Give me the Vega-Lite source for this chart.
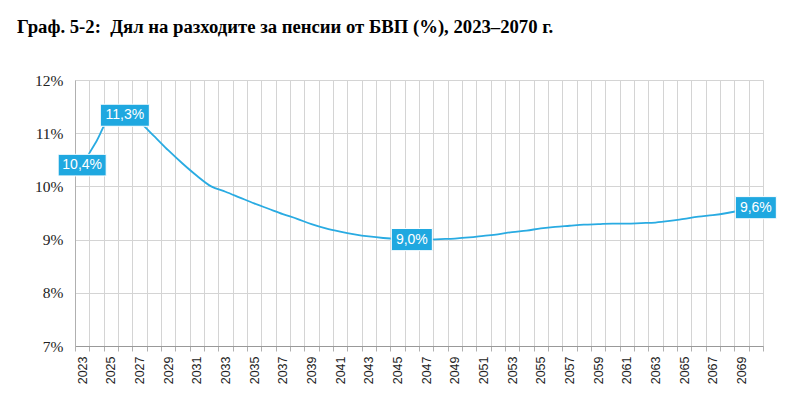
{
  "$schema": "https://vega.github.io/schema/vega-lite/v6.json",
  "width": 688,
  "height": 266,
  "autosize": {"type": "none"},
  "padding": {"left": 75, "top": 80, "right": 28, "bottom": 65},
  "background": "white",
  "title": {
    "text": "Граф. 5-2:\u00a0 Дял на разходите за пенсии от БВП (%), 2023–2070 г.",
    "anchor": "start",
    "frame": "group",
    "dx": -58,
    "offset": 36,
    "font": "Liberation Serif",
    "fontSize": 18.7,
    "fontWeight": "bold",
    "color": "#000000"
  },
  "data": {
    "values": [
      {"year": 2023, "value": 10.4, "label": "10,4%"},
      {"year": 2024, "value": 10.85},
      {"year": 2025, "value": 11.3, "label": "11,3%"},
      {"year": 2026, "value": 11.3},
      {"year": 2027, "value": 11.2},
      {"year": 2028, "value": 10.95},
      {"year": 2029, "value": 10.68},
      {"year": 2030, "value": 10.43},
      {"year": 2031, "value": 10.2},
      {"year": 2032, "value": 10.0},
      {"year": 2033, "value": 9.9},
      {"year": 2034, "value": 9.79},
      {"year": 2035, "value": 9.68},
      {"year": 2036, "value": 9.58},
      {"year": 2037, "value": 9.48},
      {"year": 2038, "value": 9.39},
      {"year": 2039, "value": 9.29},
      {"year": 2040, "value": 9.21},
      {"year": 2041, "value": 9.15},
      {"year": 2042, "value": 9.1},
      {"year": 2043, "value": 9.06},
      {"year": 2044, "value": 9.03},
      {"year": 2045, "value": 9.01},
      {"year": 2046, "value": 9.0, "label": "9,0%"},
      {"year": 2047, "value": 9.0},
      {"year": 2048, "value": 9.01},
      {"year": 2049, "value": 9.02},
      {"year": 2050, "value": 9.04},
      {"year": 2051, "value": 9.07},
      {"year": 2052, "value": 9.1},
      {"year": 2053, "value": 9.14},
      {"year": 2054, "value": 9.17},
      {"year": 2055, "value": 9.21},
      {"year": 2056, "value": 9.24},
      {"year": 2057, "value": 9.26},
      {"year": 2058, "value": 9.28},
      {"year": 2059, "value": 9.29},
      {"year": 2060, "value": 9.3},
      {"year": 2061, "value": 9.3},
      {"year": 2062, "value": 9.31},
      {"year": 2063, "value": 9.32},
      {"year": 2064, "value": 9.35},
      {"year": 2065, "value": 9.39},
      {"year": 2066, "value": 9.43},
      {"year": 2067, "value": 9.46},
      {"year": 2068, "value": 9.5},
      {"year": 2069, "value": 9.55},
      {"year": 2070, "value": 9.6, "label": "9,6%"}
    ]
  },
  "encoding": {
    "x": {
      "field": "year",
      "type": "ordinal",
      "bandPosition": 0.5,
      "scale": {"type": "band", "paddingInner": 0, "paddingOuter": 0},
      "axis": {
        "title": null,
        "tickBand": "extent",
        "labelAngle": -90,
        "labelExpr": "datum.value % 2 == 1 ? datum.label : ''",
        "labelFont": "Liberation Sans",
        "labelFontSize": 12.5,
        "labelColor": "#222222",
        "labelPadding": 5,
        "ticks": true,
        "tickSize": 5,
        "tickColor": "#b0b0b0",
        "grid": true,
        "gridColor": "#d4d4d4",
        "domainColor": "#999999"
      }
    },
    "y": {
      "field": "value",
      "type": "quantitative",
      "scale": {"domain": [7, 12], "nice": false, "zero": false},
      "axis": {
        "title": null,
        "values": [7, 8, 9, 10, 11, 12],
        "labelExpr": "datum.value + '%'",
        "labelFont": "Liberation Serif",
        "labelFontSize": 15.5,
        "labelColor": "#222222",
        "labelPadding": 12,
        "ticks": false,
        "grid": true,
        "gridColor": "#d4d4d4",
        "domainColor": "#b0b0b0"
      }
    }
  },
  "layer": [
    {
      "mark": {"type": "line", "color": "#29abe2", "strokeWidth": 1.8, "interpolate": "monotone"}
    },
    {
      "transform": [{"filter": "datum.year == 2023"}],
      "mark": {"type": "point", "shape": "M-1,-0.45H1V0.45H-1Z", "size": 2304, "filled": true, "opacity": 1, "color": "#1fa8e0", "stroke": "white", "strokeWidth": 1}
    },
    {
      "transform": [{"filter": "datum.year == 2025"}],
      "mark": {"type": "point", "shape": "M-1,-0.45H1V0.45H-1Z", "size": 2401, "filled": true, "opacity": 1, "color": "#1fa8e0", "stroke": "white", "strokeWidth": 1, "xOffset": 14, "yOffset": -2}
    },
    {
      "transform": [{"filter": "datum.year == 2046 || datum.year == 2070"}],
      "mark": {"type": "point", "shape": "M-1,-0.54H1V0.54H-1Z", "size": 1681, "filled": true, "opacity": 1, "color": "#1fa8e0", "stroke": "white", "strokeWidth": 1}
    },
    {
      "transform": [{"filter": "datum.label != null && datum.year != 2025"}],
      "mark": {"type": "text", "color": "white", "font": "Liberation Sans", "fontSize": 14, "baseline": "middle", "align": "center"},
      "encoding": {"text": {"field": "label"}}
    },
    {
      "transform": [{"filter": "datum.year == 2025"}],
      "mark": {"type": "text", "color": "white", "font": "Liberation Sans", "fontSize": 14, "baseline": "middle", "align": "center", "dx": 14, "dy": -2},
      "encoding": {"text": {"field": "label"}}
    }
  ]
}
